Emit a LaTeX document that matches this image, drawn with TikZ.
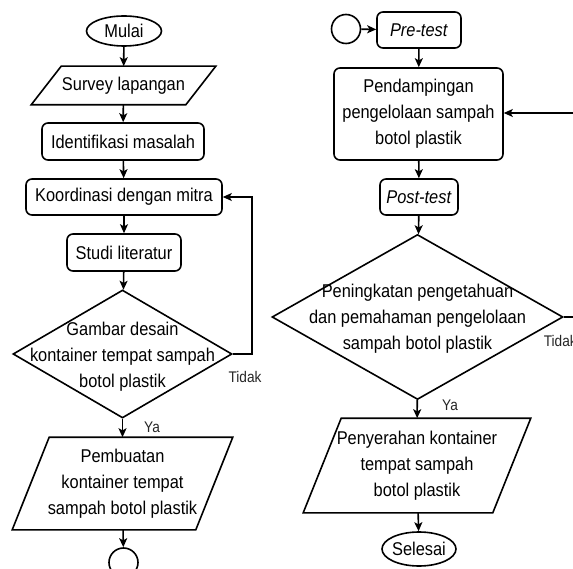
\documentclass[tikz,border=0pt]{standalone}
\usepackage{fontspec}
\setmainfont{Liberation Sans}[FakeStretch=0.886]
\usetikzlibrary{shapes.geometric,arrows.meta}
\newcommand\paraout[2]{%
  \draw ([xshift=#2]#1.north west) -- ([xshift=#2]#1.north east) --
        ([xshift=-#2]#1.south east) -- ([xshift=-#2]#1.south west) -- cycle;}
\begin{document}
\begin{tikzpicture}[x=1pt,y=-1pt,
  font=\fontsize{18.5}{26}\selectfont,
  line width=1.6pt,
  >={Stealth[length=9pt,width=8pt,inset=2.2pt]},
  box/.style={draw, rounded corners=6pt, align=center, inner sep=0pt},
  parabox/.style={rectangle, align=center, inner sep=0pt},
  term/.style={ellipse, draw, inner sep=0pt},
  conn/.style={circle, draw, inner sep=0pt, minimum size=29pt},
  dia/.style={diamond, draw, inner sep=0pt},
  lab/.style={font=\fontsize{15.4}{18}\selectfont, text=black!85, inner sep=0pt},
  flow/.style={->}
]
\useasboundingbox (0,0) rectangle (573,569);
\fill[white] (0,0) rectangle (573,569);
\clip (0,0) rectangle (573,569);

% ---- left column ----
\node[term, minimum width=75pt, minimum height=30pt, label=center:Mulai] (mulai) at (124,31) {};
\node[parabox, minimum width=153pt, minimum height=37pt] (survey) at (123.5,85.5) {Survey lapangan};
\paraout{survey}{15pt}
\node[box, minimum width=162pt, minimum height=37pt] (ident) at (123,141.5) {Identifikasi masalah};
\node[box, minimum width=196pt, minimum height=36pt] (koord) at (124,197) {Koordinasi dengan mitra};
\node[box, minimum width=114pt, minimum height=37pt] (studi) at (124,252.5) {Studi literatur};
\node[dia, minimum width=219pt, minimum height=128pt,
  label={[align=center,yshift=-3pt]center:{Gambar desain\\kontainer tempat sampah\\botol plastik}}] (d1) at (122.5,354) {};
\node[parabox, minimum width=182pt, minimum height=91pt] (pemb) at (122.5,483.5) {Pembuatan\\kontainer tempat\\sampah botol plastik};
\paraout{pemb}{18.5pt}
\node[conn] (c1) at (123.5,562.5) {};

\node[lab] (tidak1) at (245,377) {Tidak};
\node[lab] (ya1) at (152,427) {Ya};

\draw[flow] (mulai) -- (survey);
\draw[flow] (survey) -- (ident);
\draw[flow] (ident) -- (koord);
\draw[flow] (koord) -- (studi);
\draw[flow] (studi) -- (d1);
\draw[flow] (d1) -- (pemb);
\draw[flow] (pemb) -- (c1);
\draw[flow] (d1.east) -- (252,354) -- (252,197) -- (koord.east);

% ---- right column ----
\node[conn] (c2) at (346,29) {};
\node[box, minimum width=84pt, minimum height=36pt] (pre) at (419,30) {\textit{Pre-test}};
\node[box, minimum width=169pt, minimum height=92pt] (pend) at (418.5,114) {Pendampingan\\pengelolaan sampah\\botol plastik};
\node[box, minimum width=78pt, minimum height=36pt] (post) at (419,197) {\textit{Post-test}};
\node[dia, minimum width=291pt, minimum height=165pt,
  label={[align=center,yshift=-2pt]center:{Peningkatan pengetahuan\\dan pemahaman pengelolaan\\sampah botol plastik}}] (d2) at (417.5,317) {};
\node[parabox, minimum width=188pt, minimum height=93pt] (peny) at (417,465.5) {Penyerahan kontainer\\tempat sampah\\botol plastik};
\paraout{peny}{19pt}
\node[term, minimum width=74pt, minimum height=34pt, label=center:Selesai] (selesai) at (419,549) {};

\node[lab, anchor=west] (tidak2) at (543,341) {Tidak};
\node[lab] (ya2) at (450,405) {Ya};

\coordinate (r1) at (590,317);
\coordinate (r2) at (590,113);
\draw[flow] (c2) -- (pre);
\draw[flow] (pre) -- (pend);
\draw[flow] (pend) -- (post);
\draw[flow] (post) -- (d2);
\draw[flow] (d2) -- (peny);
\draw[flow] (peny) -- (selesai);
\draw[flow] (d2.east) -- (r1) -- (r2) -- (pend.east |- r2);
\end{tikzpicture}
\end{document}
